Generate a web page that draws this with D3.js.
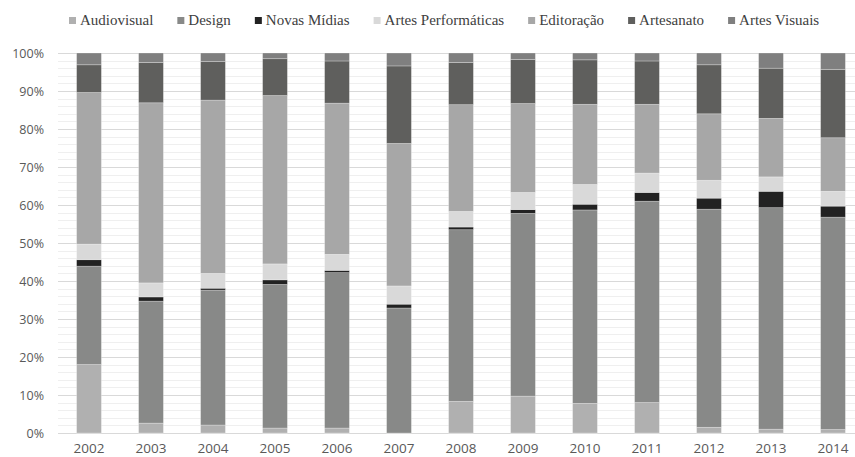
<!DOCTYPE html>
<html>
<head>
<meta charset="utf-8">
<script src="https://cdn.jsdelivr.net/npm/d3@7"></script>
<style>
  body { margin: 0; background: #fff; }
  svg { display: block; }
</style>
</head>
<body>
<div id="chart"></div>
<script>
const years = ["2002", "2003", "2004", "2005", "2006", "2007", "2008", "2009", "2010", "2011", "2012", "2013", "2014"];
const seriesNames = ["Audiovisual", "Design", "Novas Mídias", "Artes Performáticas", "Editoração", "Artesanato", "Artes Visuais"];
const audiovisual = [18.0, 2.6, 2.1, 1.3, 1.3, 0, 8.3, 9.7, 7.8, 8.0, 1.5, 1.0, 0.9];
const design = [25.9, 32.1, 35.5, 37.8, 40.9, 32.9, 45.2, 48.1, 50.9, 53.0, 57.4, 58.3, 55.9];
const novasMidias = [1.7, 1.1, 0.5, 1.2, 0.6, 1.0, 0.7, 1.0, 1.5, 2.3, 2.9, 4.3, 2.9];
const artesPerformaticas = [4.1, 3.7, 3.9, 4.2, 4.2, 4.8, 4.1, 4.5, 5.2, 5.1, 4.7, 3.8, 3.9];
const editoracao = [39.9, 47.4, 45.6, 44.3, 39.8, 37.5, 28.1, 23.4, 21.1, 18.1, 17.5, 15.4, 14.1];
const artesanato = [7.3, 10.6, 10.2, 9.7, 11.1, 20.4, 11.1, 11.6, 11.7, 11.4, 12.9, 13.2, 18.0];
const artesVisuais = [3.1, 2.5, 2.2, 1.5, 2.1, 3.4, 2.5, 1.7, 1.8, 2.1, 3.1, 4.0, 4.3];
const yTicks = [0, 10, 20, 30, 40, 50, 60, 70, 80, 90, 100];
const colors = ["#b0b0b0", "#888988", "#222222", "#d9d9d9", "#a7a7a7", "#5f5f5d", "#7f7f7f"];

const width = 855;
const height = 457;
const margin = { top: 53, bottom: 24, left: 58, right: -9 };

const allSeries = [audiovisual, design, novasMidias, artesPerformaticas, editoracao, artesanato, artesVisuais];
const data = years.map((y, i) => {
  const row = { year: y };
  seriesNames.forEach((s, j) => (row[s] = allSeries[j][i]));
  return row;
});

const svg = d3.select("#chart").append("svg").attr("width", width).attr("height", height);

const x = d3.scaleBand().domain(years).range([margin.left, width - margin.right]).paddingInner(0.6).paddingOuter(0.3);
const y = d3.scaleLinear().domain([0, 100]).range([height - margin.bottom, margin.top]);

// minor grid every 2%
const minor = d3.range(0, 101, 2).filter((v) => v % 10 !== 0);
svg
  .append("g")
  .selectAll("line")
  .data(minor)
  .join("line")
  .attr("x1", margin.left)
  .attr("x2", width - margin.right)
  .attr("y1", (d) => Math.round(y(d)) + 0.5)
  .attr("y2", (d) => Math.round(y(d)) + 0.5)
  .attr("stroke", "#efefef")
  .attr("stroke-width", 1);

svg
  .append("g")
  .selectAll("line")
  .data(yTicks)
  .join("line")
  .attr("x1", margin.left)
  .attr("x2", width - margin.right)
  .attr("y1", (d) => Math.round(y(d)) + 0.5)
  .attr("y2", (d) => Math.round(y(d)) + 0.5)
  .attr("stroke", "#d9d9d9")
  .attr("stroke-width", 1.2);

const stack = d3.stack().keys(seriesNames);
const stacked = stack(data);

svg
  .append("g")
  .selectAll("g")
  .data(stacked)
  .join("g")
  .attr("fill", (d, i) => colors[i])
  .selectAll("rect")
  .data((d) => d)
  .join("rect")
  .attr("x", (d) => x(d.data.year))
  .attr("width", x.bandwidth())
  .attr("y", (d) => y(d[1]))
  .attr("height", (d) => y(d[0]) - y(d[1]))
  .attr("stroke", "rgba(255,255,255,0.35)")
  .attr("stroke-width", 0.75);

// y axis labels
const yAxis = svg
  .append("g")
  .attr("transform", `translate(${margin.left},0)`)
  .call(d3.axisLeft(y).tickValues(yTicks).tickSize(0).tickPadding(14).tickFormat((d) => d + "%"));
yAxis.select(".domain").remove();
yAxis.selectAll("text").attr("fill", "#595959").style("font-family", "'Open Sans', sans-serif").style("font-size", "12.5px");

// x axis labels
const xAxis = svg
  .append("g")
  .attr("transform", `translate(0,${height - margin.bottom})`)
  .call(d3.axisBottom(x).tickSize(0).tickPadding(10));
xAxis.select(".domain").remove();
xAxis.selectAll("text").attr("fill", "#595959").style("font-family", "'Open Sans', sans-serif").style("font-size", "13.5px");

// legend
const legend = svg.append("g").attr("transform", "translate(69,0)");
let lx = 0;
seriesNames.forEach((name, i) => {
  const item = legend.append("g").attr("transform", `translate(${lx},0)`);
  item.append("rect").attr("x", 0).attr("y", 17).attr("width", 7).attr("height", 7).attr("fill", colors[i]);
  const t = item
    .append("text")
    .attr("x", 11)
    .attr("y", 25)
    .attr("fill", "#404040")
    .style("font-family", "'Liberation Serif', serif")
    .style("font-size", "15px")
    .text(name);
  lx += 11 + t.node().getComputedTextLength() + 24;
});
</script>
</body>
</html>
